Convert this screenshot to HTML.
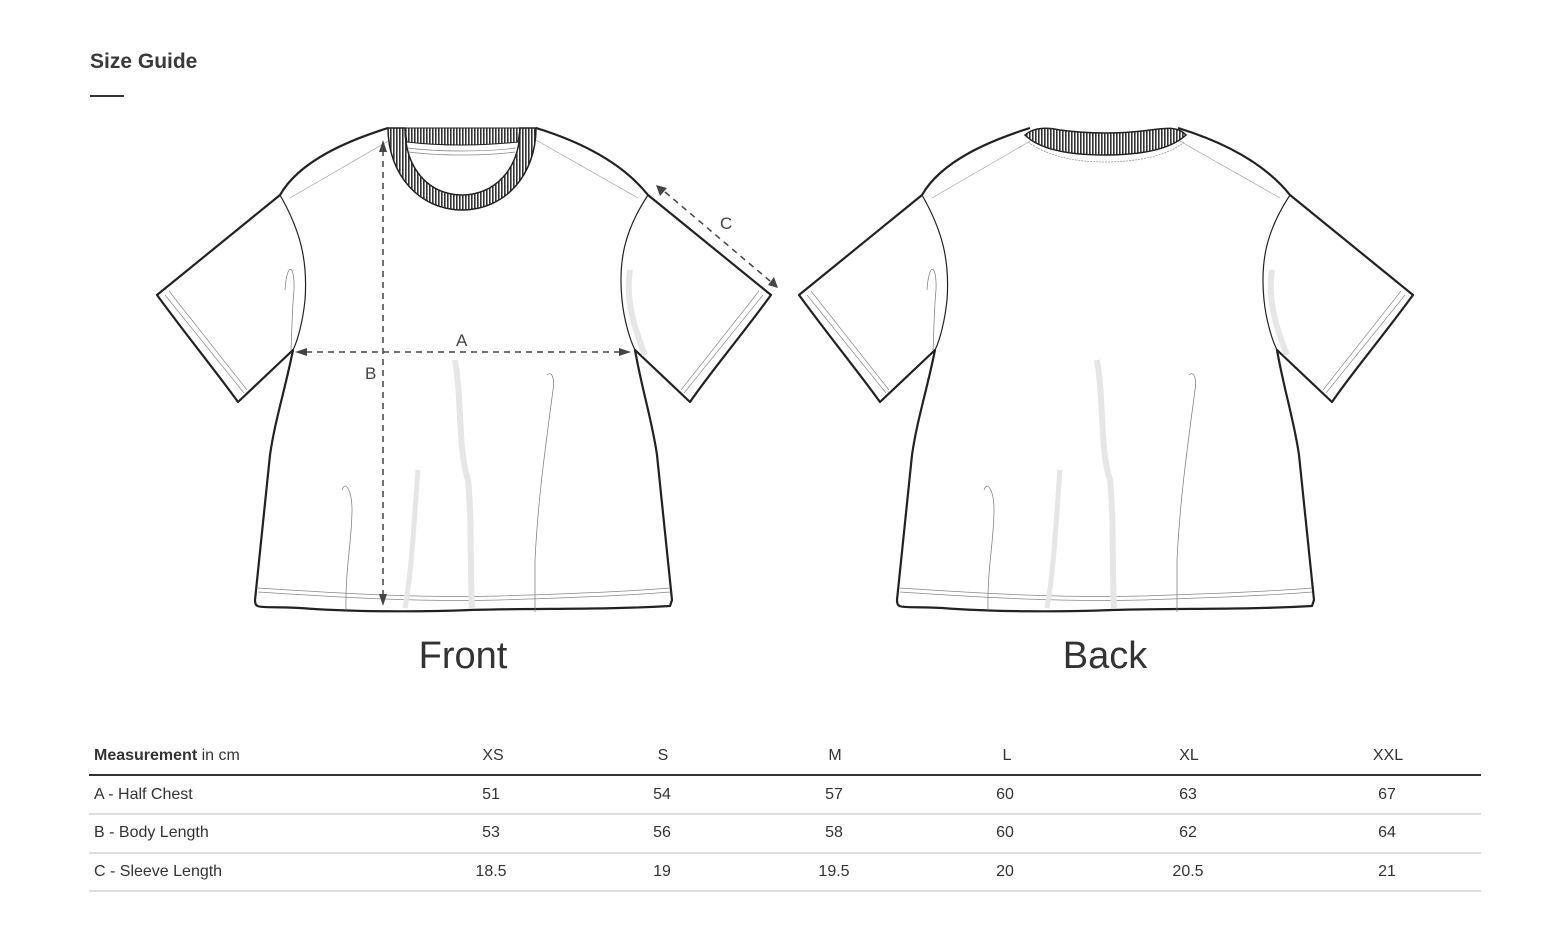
<!DOCTYPE html>
<html><head><meta charset="utf-8"><style>
body{margin:0;background:#fff;width:1564px;height:938px;overflow:hidden;font-family:"Liberation Sans",sans-serif;color:#333;position:relative}
.t{position:absolute;white-space:nowrap}
.c{transform:translateX(-50%)}
.hl{position:absolute;left:89px;width:1392px}
</style></head><body>
<div class="t" style="left:90px;top:50px;font-size:21px;font-weight:bold;color:#3a3a3a">Size Guide</div>
<div style="position:absolute;left:90px;top:95px;width:34px;height:2px;background:#333"></div>

<svg width="1564" height="938" style="position:absolute;left:0;top:0">
<defs>
<pattern id="rib" width="3" height="3" patternUnits="userSpaceOnUse"><rect width="3" height="3" fill="#fff"/><rect width="1.6" height="3" fill="#333"/></pattern>
<g id="shirt">
 <path d="M388,128 C350,140 300,160 280,195 L157,295 C190,340 215,370 238,402 L293,350 C285,390 275,420 270,455 L255,600 C255,610 260,606 300,608 C350,612 420,612 470,610 C540,608 600,610 670,606 L672,600 L657,455 C652,420 642,390 635,350 L690,402 C712,370 738,340 771,295 L648,195 C620,160 575,140 536,128" fill="#fff" stroke="#222" stroke-width="2.2" stroke-linejoin="round"/>
 <path d="M280,195 C300,230 308,260 305,300 C303,320 298,340 293,350" fill="none" stroke="#222" stroke-width="1.2"/>
 <path d="M648,195 C625,230 618,260 622,300 C624,320 630,340 635,350" fill="none" stroke="#222" stroke-width="1.2"/>
 <path d="M165,295 L244,393 M169,291 L247,390" stroke="#888" stroke-width="0.7" fill="none"/>
 <path d="M763,295 L684,393 M759,291 L681,390" stroke="#888" stroke-width="0.7" fill="none"/>
 <path d="M258,588 C350,594 420,598 500,596 C560,594 620,592 670,588 M258,592 C350,598 420,602 500,600 C560,598 620,596 670,592" stroke="#888" stroke-width="0.7" fill="none"/>
 <path d="M290,198 L390,140 M638,198 L536,140" stroke="#999" stroke-width="0.6" fill="none"/>
 <path d="M455,360 C462,400 458,450 468,480 C472,520 470,570 472,608" stroke="#e6e6e6" stroke-width="6" fill="none"/>
 <path d="M630,270 C625,300 635,330 645,355" stroke="#e6e6e6" stroke-width="6" fill="none"/>
 <path d="M418,470 C414,520 412,570 405,608" stroke="#e6e6e6" stroke-width="5" fill="none"/>
 <path d="M547,375 C552,370 555,380 553,390 C545,450 538,500 535,560 C535,580 535,600 535,612" stroke="#777" stroke-width="0.7" fill="none"/>
 <path d="M342,490 C345,480 352,490 352,510 C352,540 345,570 346,610" stroke="#777" stroke-width="0.7" fill="none"/>
 <path d="M285,290 C287,260 295,265 294,290 C292,310 292,330 291,350" stroke="#777" stroke-width="0.7" fill="none"/>
</g>
</defs>
<use href="#shirt"/>
<use href="#shirt" x="642"/>
<path d="M388,128 L405,128 C405,170 430,195 462,195 C494,195 520,170 520,128 L536,128 C536,175 505,210 462,210 C420,210 388,175 388,128Z" fill="url(#rib)" stroke="#222" stroke-width="1.5"/>
<path d="M405,128 L520,128 L518,142 C480,146 440,146 407,142Z" fill="url(#rib)" stroke="#222" stroke-width="1"/>
<path d="M408,148 C440,152 485,152 516,148 M409,152 C440,156 485,156 515,152" stroke="#888" stroke-width="0.7" fill="none"/>
<path d="M1025,135 C1035,126 1050,128 1060,130 C1090,134 1120,134 1150,130 C1165,128 1178,126 1186,135 C1170,150 1140,155 1105,155 C1070,155 1040,150 1025,135Z" fill="url(#rib)" stroke="#222" stroke-width="1.5"/>
<path d="M1028,142 C1050,158 1080,162 1105,162 C1130,162 1165,158 1184,142" stroke="#888" stroke-width="0.7" fill="none" stroke-dasharray="2,1"/>
<g stroke="#444" stroke-width="1.5" stroke-dasharray="6,5" fill="none">
<line x1="383" y1="150" x2="383" y2="596"/>
<line x1="306" y1="352" x2="620" y2="352"/>
<line x1="665" y1="192" x2="770" y2="281"/>
</g>
<g fill="#444">
<path d="M383,140 L379,152 L387,152Z"/><path d="M383,606 L379,594 L387,594Z"/>
<path d="M295,352 L307,348 L307,356Z"/><path d="M631,352 L619,348 L619,356Z"/>
<path d="M656,185 L660,196 L667,188Z"/><path d="M778,288 L768,285 L774,277Z"/>
</g>
<g font-family="Liberation Sans,sans-serif" font-size="17" fill="#444">
<text x="456" y="346">A</text><text x="365" y="379">B</text><text x="720" y="229">C</text>
</g>
</svg>

<div class="t c" style="left:463px;top:635px;font-size:38px;color:#333">Front</div>
<div class="t c" style="left:1105px;top:635px;font-size:38px;color:#333">Back</div>

<div class="hl" style="top:774px;height:2px;background:#333"></div>
<div class="hl" style="top:813px;height:2px;background:#ddd"></div>
<div class="hl" style="top:852px;height:2px;background:#ddd"></div>
<div class="hl" style="top:890px;height:2px;background:#ddd"></div>

<div class="t" style="left:94px;top:747px;font-size:16px"><b>Measurement</b> in cm</div>
<div class="t" style="left:94px;top:786px;font-size:16px">A - Half Chest</div>
<div class="t" style="left:94px;top:824px;font-size:16px">B - Body Length</div>
<div class="t" style="left:94px;top:863px;font-size:16px">C - Sleeve Length</div>

<div style="font-size:16px">
<div class="t c" style="left:493px;top:747px">XS</div><div class="t c" style="left:663px;top:747px">S</div><div class="t c" style="left:835px;top:747px">M</div><div class="t c" style="left:1007px;top:747px">L</div><div class="t c" style="left:1189px;top:747px">XL</div><div class="t c" style="left:1388px;top:747px">XXL</div>
<div class="t c" style="left:491px;top:786px">51</div><div class="t c" style="left:662px;top:786px">54</div><div class="t c" style="left:834px;top:786px">57</div><div class="t c" style="left:1005px;top:786px">60</div><div class="t c" style="left:1188px;top:786px">63</div><div class="t c" style="left:1387px;top:786px">67</div>
<div class="t c" style="left:491px;top:824px">53</div><div class="t c" style="left:662px;top:824px">56</div><div class="t c" style="left:834px;top:824px">58</div><div class="t c" style="left:1005px;top:824px">60</div><div class="t c" style="left:1188px;top:824px">62</div><div class="t c" style="left:1387px;top:824px">64</div>
<div class="t c" style="left:491px;top:863px">18.5</div><div class="t c" style="left:662px;top:863px">19</div><div class="t c" style="left:834px;top:863px">19.5</div><div class="t c" style="left:1005px;top:863px">20</div><div class="t c" style="left:1188px;top:863px">20.5</div><div class="t c" style="left:1387px;top:863px">21</div>
</div>
</body></html>
